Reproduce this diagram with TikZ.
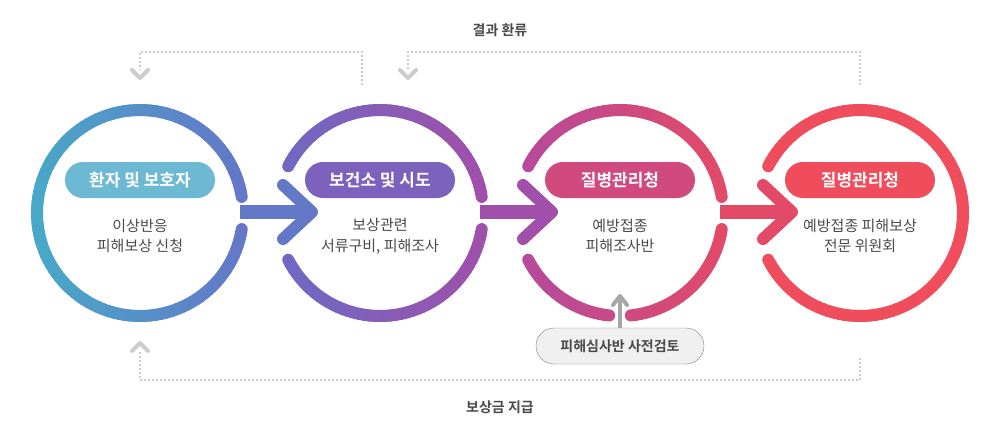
\documentclass[tikz,border=0pt]{standalone}
\usepackage{fontspec}
\setmainfont{Noto Sans CJK KR}
\newfontfamily\krb{Noto Sans CJK KR Bold}
\definecolor{cA}{HTML}{48A8C8}\definecolor{cB}{HTML}{6478C8}
\definecolor{cC}{HTML}{6C6AC4}\definecolor{cD}{HTML}{A050AA}
\definecolor{cE}{HTML}{B44A9E}\definecolor{cF}{HTML}{E24A68}
\definecolor{cG}{HTML}{EF4C5C}\definecolor{cH}{HTML}{F04E5C}
\definecolor{txt}{HTML}{4A4A4A}\definecolor{dot}{HTML}{CCCCCC}
\newcommand\ringseg[5]{%
  \pgfmathtruncatemacro\nxa{#2+3}\pgfmathtruncatemacro\eya{#3-3}%
  \foreach \a in {#2,\nxa,...,\eya}{%
    \pgfmathtruncatemacro\p{50*(1-cos(\a+1.5))}%
    \draw[line width=12pt,line cap=round,color={#4!\p!#5}] ([shift={(\a:103)}]#1,213) arc[start angle=\a,end angle=\a+3,radius=103];}}
\begin{document}
\begin{tikzpicture}[x=1pt,y=-1pt,
  pill/.style={rounded corners=18pt,minimum width=150pt,minimum height=36pt,text=white,font=\krb\fontsize{17}{20}\selectfont,inner sep=0pt},
  body/.style={text=txt,align=center,font=\fontsize{15}{20.5}\selectfont},
  fb/.style={dot,line width=2pt,dash pattern=on 2pt off 2pt},
  chev/.style={dot,line width=4pt,line cap=round,line join=round},
  lbl/.style={text=txt,font=\krb\fontsize{14}{16}\selectfont}]
\useasboundingbox (0,0) rectangle (1000,434);
% rings
\ringseg{140}{9}{351}{cA}{cB}
\ringseg{380}{9}{153}{cC}{cD}\ringseg{380}{207}{351}{cC}{cD}
\ringseg{620}{9}{84}{cE}{cF}\ringseg{620}{96}{153}{cE}{cF}\ringseg{620}{207}{351}{cE}{cF}
\ringseg{860}{207}{513}{cG}{cH}
% arrows
\foreach \cx/\col in {140/cB,380/cD,620/cF}{
  \coordinate (s) at (\cx+100,212);
  \coordinate (t) at (\cx+172,212);
  \draw[\col,line width=14pt] (s) -- (t);
  \draw[\col,line width=12pt,line cap=round,line join=round] (\cx+143,185) -- (t) -- (\cx+143,239);
}
% pills
\node[pill,fill={cA!80!white}] (p1) at (140,180) {환자 및 보호자};
\node[pill,fill={cC!70!cD}] (p2) at (380,180) {보건소 및 시도};
\node[pill,fill={cE!40!cF}] (p3) at (620,180) {질병관리청};
\node[pill,fill=cG] (p4) at (860,180) {질병관리청};
\node[body] (b1) at (140,236) {이상반응\\피해보상 신청};
\node[body] (b2) at (380,236) {보상관련\\서류구비, 피해조사};
\node[body] (b3) at (620,236) {예방접종\\피해조사반};
\node[body] (b4) at (860,236) {예방접종 피해보상\\전문 위원회};
% review box
\node[draw={black!50},fill={black!6},rounded corners=18pt,minimum width=168pt,minimum height=36pt,text=txt,font=\krb\fontsize{14}{16}\selectfont] (rv) at (620,346) {피해심사반 사전검토};
\coordinate (rt) at (620,296);
\draw[black!35,line width=4pt] (rv.north) -- (620,300);
\draw[black!35,line width=4pt,line cap=round,line join=round] (613,305) -- (rt) -- (627,305);
% feedback
\coordinate (f1a) at (362,85); \coordinate (f1b) at (140,78);
\draw[fb] (f1a) -- (362,52) -- (140,52) -- (140,70);
\draw[chev] (132,70) -- (f1b) -- (148,70);
\coordinate (f2a) at (860,85); \coordinate (f2b) at (408,78);
\draw[fb] (f2a) -- (860,52) -- (408,52) -- (408,70);
\draw[chev] (400,70) -- (f2b) -- (416,70);
\node[lbl] (l1) at (500,30) {결과 환류};
\coordinate (g1a) at (860,358); \coordinate (g1b) at (140,343);
\draw[fb] (g1a) -- (860,380) -- (140,380) -- (140,352);
\draw[chev] (132,351) -- (g1b) -- (148,351);
\node[lbl] (l2) at (500,407) {보상금 지급};
\end{tikzpicture}
\end{document}
